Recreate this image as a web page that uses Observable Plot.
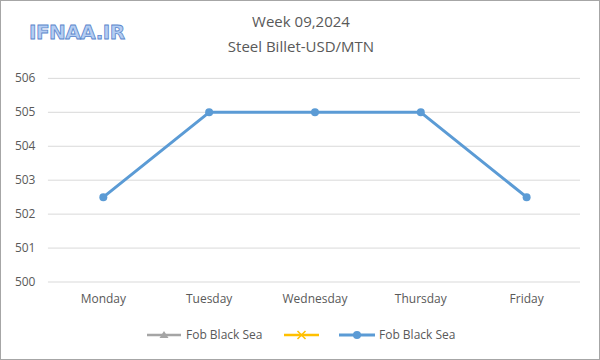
<!DOCTYPE html>
<html><head><meta charset="utf-8">
<script src="https://cdn.jsdelivr.net/npm/d3@7"></script>
<script src="https://cdn.jsdelivr.net/npm/@observablehq/plot@0.6"></script>
<style>
body{margin:0;background:#fff;font-family:"Open Sans",sans-serif;}
#wrap{position:relative;width:598px;height:358px;border:1px solid #a6a6a6;overflow:hidden;}
#chart{position:absolute;left:-1px;top:-1px;}
.title{position:absolute;left:0;width:600px;text-align:center;color:#595959;font-size:15px;}
#logo{position:absolute;left:28px;top:19px;font-family:"DejaVu Sans",sans-serif;font-weight:bold;font-size:20px;color:#b4cdf2;-webkit-text-stroke:0.8px #5a86cc;letter-spacing:-0.5px;}
#legend{position:absolute;top:323px;left:0;width:600px;font-size:12px;color:#595959;}
#legend svg{position:absolute;left:0;top:0;}
</style></head>
<body>
<div id="wrap">
<div id="chart"></div>
<div id="logo">IFNAA.IR</div>
<div class="title" style="top:10px">Week 09,2024</div>
<div class="title" style="top:35px">Steel Billet-USD/MTN</div>
<div id="legend"></div>
</div>
<script>
const days = ["Monday","Tuesday","Wednesday","Thursday","Friday"];
const prices = [502.5, 505, 505, 505, 502.5];
const yTicks = [500,501,502,503,504,505,506];
const seriesName = "Fob Black Sea";

const data = days.map((d,i)=>({day:d, price:prices[i]}));
const plot = Plot.plot({
  width:600, height:360,
  marginLeft:48, marginRight:19, marginTop:78, marginBottom:78,
  style:{fontFamily:"Open Sans, sans-serif", fontSize:"12px", color:"#595959", background:"transparent"},
  x:{type:"band", domain:days, padding:0, label:null, tickSize:0, tickPadding:12},
  y:{domain:[500,506], ticks:yTicks, label:null, tickSize:0, tickPadding:13, tickFormat:d=>String(d)},
  marks:[
    Plot.ruleY(yTicks,{stroke:"#d9d9d9", strokeWidth:1, strokeOpacity:1}),
    Plot.line(data,{x:"day", y:"price", stroke:"#5b9bd5", strokeWidth:3}),
    Plot.dot(data,{x:"day", y:"price", fill:"#5b9bd5", r:4, stroke:"none"})
  ]
});
document.getElementById("chart").appendChild(plot);

// legend
const lg = d3.select("#legend");
const svg = lg.append("svg").attr("width",600).attr("height",24);
const cy = 11;
svg.append("line").attr("x1",146).attr("x2",180).attr("y1",cy).attr("y2",cy).attr("stroke","#a5a5a5").attr("stroke-width",2.5);
svg.append("path").attr("d",`M163,${cy-4} L167.5,${cy+3} L158.5,${cy+3} Z`).attr("fill","#a5a5a5");
svg.append("text").attr("x",185).attr("y",cy+4).attr("fill","#595959").attr("font-size",12).attr("font-family","Open Sans, sans-serif").text(seriesName);
svg.append("line").attr("x1",283).attr("x2",318).attr("y1",cy).attr("y2",cy).attr("stroke","#ffc000").attr("stroke-width",2.5);
svg.append("path").attr("d",`M296.5,${cy-4} L304.5,${cy+4} M304.5,${cy-4} L296.5,${cy+4}`).attr("stroke","#ffc000").attr("stroke-width",1.5);
svg.append("line").attr("x1",338).attr("x2",374).attr("y1",cy).attr("y2",cy).attr("stroke","#5b9bd5").attr("stroke-width",3);
svg.append("circle").attr("cx",356).attr("cy",cy).attr("r",4).attr("fill","#5b9bd5");
svg.append("text").attr("x",378).attr("y",cy+4).attr("fill","#595959").attr("font-size",12).attr("font-family","Open Sans, sans-serif").text(seriesName);
</script>
</body></html>
